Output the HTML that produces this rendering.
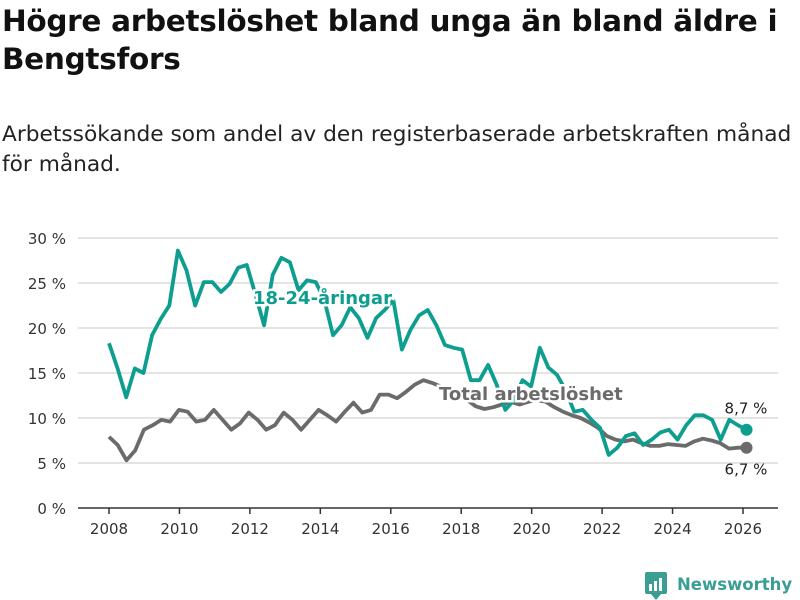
<!DOCTYPE html>
<html><head><meta charset="utf-8"><style>
body{margin:0;background:#fff;font-family:"Liberation Sans","DejaVu Sans",sans-serif;}
#wrap{position:relative;width:800px;height:600px;overflow:hidden;}
h1{position:absolute;left:2px;top:2px;width:798px;margin:0;font-size:29.5px;line-height:38px;font-weight:bold;color:#111;font-family:"DejaVu Sans",sans-serif;letter-spacing:-0.3px}
p{position:absolute;left:2px;top:120px;width:798px;margin:0;font-size:21.7px;line-height:30px;color:#222;font-family:"DejaVu Sans",sans-serif;letter-spacing:0}
svg{position:absolute;left:0;top:0}
</style></head><body><div id="wrap">
<h1>Högre arbetslöshet bland unga än bland äldre i Bengtsfors</h1>
<p>Arbetssökande som andel av den registerbaserade arbetskraften månad för månad.</p>
<svg id="chart" width="800" height="600"></svg>
</div>
<script>
const yTicks=[0,5,10,15,20,25,30];
const xTicks=[2008,2010,2012,2014,2016,2018,2020,2022,2024,2026];
const startYear=2008, endYear=2026.1;
const youth=[18.3,15.5,12.3,15.5,15,19.2,21,22.5,28.6,26.4,22.5,25.1,25.1,24,24.9,26.7,27,23.7,20.3,25.9,27.8,27.3,24.2,25.3,25.1,23.1,19.2,20.3,22.3,21.1,18.9,21.1,22,23.1,17.6,19.8,21.4,22,20.3,18.1,17.8,17.6,14.2,14.2,15.9,13.7,10.9,12,14.2,13.5,17.8,15.6,14.8,13.1,10.7,10.9,9.8,8.9,5.9,6.7,8,8.3,7,7.6,8.4,8.7,7.6,9.2,10.3,10.3,9.8,7.6,9.8,9.2,8.7];
const total=[7.9,7,5.3,6.4,8.7,9.2,9.8,9.6,10.9,10.7,9.6,9.8,10.9,9.8,8.7,9.4,10.6,9.8,8.7,9.2,10.6,9.8,8.7,9.8,10.9,10.3,9.6,10.7,11.7,10.6,10.9,12.6,12.6,12.2,12.9,13.7,14.2,13.9,13.5,13,12.5,12,11.3,11,11.2,11.5,11.8,11.5,11.8,12,11.8,11.2,10.7,10.3,10,9.5,8.9,8,7.6,7.4,7.6,7.2,6.9,6.9,7.1,7,6.9,7.4,7.7,7.5,7.2,6.6,6.7,6.7];
const ns="http://www.w3.org/2000/svg", svg=document.getElementById('chart');
const X=t=>109+(t-2008)*(743-109)/18, Y=v=>508-v*9;
const T=(i,n)=>startYear+i*(endYear-startYear)/(n-1);
function mk(tag,attrs,txt){const e=document.createElementNS(ns,tag);for(const k in attrs)e.setAttribute(k,attrs[k]);if(txt!==undefined)e.textContent=txt;svg.appendChild(e);return e;}
yTicks.forEach(v=>{
 if(v>0){const g=mk('line',{x1:78,x2:778,y1:Y(v),y2:Y(v),stroke:'#dcdcdc','stroke-width':1.5});
 
 }
 const t=mk('text',{x:66,y:Y(v)+6,'text-anchor':'end','font-size':15,fill:'#333','font-family':'DejaVu Sans,sans-serif'},v+' %');
 
 
});
const ax=mk('line',{x1:78,x2:778,y1:508,y2:508,stroke:'#333','stroke-width':1.5});


xTicks.forEach(y=>{
 const l=mk('line',{x1:X(y),x2:X(y),y1:508,y2:514,stroke:'#333','stroke-width':1.5});
 
 
 const t=mk('text',{x:X(y),y:534,'text-anchor':'middle','font-size':15,fill:'#333','font-family':'DejaVu Sans,sans-serif'},y);
 
 
});
function path(arr){return arr.map((v,i)=>(i?'L':'M')+X(T(i,arr.length)).toFixed(1)+' '+Y(v).toFixed(1)).join(' ');}
const pt=mk('path',{d:path(total),fill:'none',stroke:'#6b6b6b','stroke-width':3.8,'stroke-linejoin':'round'});


const py=mk('path',{d:path(youth),fill:'none',stroke:'#0e9e8f','stroke-width':3.8,'stroke-linejoin':'round'});


const lt=total.length-1, ly=youth.length-1;
const d1=mk('circle',{cx:X(T(lt,total.length)),cy:Y(total[lt]),r:6,fill:'#6b6b6b'});


const d2=mk('circle',{cx:X(T(ly,youth.length)),cy:Y(youth[ly]),r:6,fill:'#0e9e8f'});


const e1=mk('text',{x:746,y:Y(youth[ly])-16,'text-anchor':'middle','font-size':15,fill:'#222','font-family':'DejaVu Sans,sans-serif'},youth[ly].toFixed(1).replace('.',',')+' %');


const e2=mk('text',{x:746,y:Y(total[lt])+27,'text-anchor':'middle','font-size':15,fill:'#222','font-family':'DejaVu Sans,sans-serif'},total[lt].toFixed(1).replace('.',',')+' %');


const s1=mk('text',{x:253,y:304,'font-size':18,'font-weight':'bold',fill:'#0e9e8f',stroke:'#fff','stroke-width':5,'paint-order':'stroke','font-family':'DejaVu Sans,sans-serif'},'18-24-åringar');


const s2=mk('text',{x:439,y:400,'font-size':18,'font-weight':'bold',fill:'#6b6b6b',stroke:'#fff','stroke-width':5,'paint-order':'stroke','font-family':'DejaVu Sans,sans-serif'},'Total arbetslöshet');


const lg=mk('g',{});


lg.innerHTML='<rect x="645" y="572" width="22" height="22" rx="2" fill="#3a9e93"/><path d="M650 593 L656 600 L662 593Z" fill="#3a9e93"/><rect x="649" y="584" width="3" height="7" fill="#fff"/><rect x="654" y="581" width="3" height="10" fill="#fff"/><rect x="659" y="578" width="3" height="13" fill="#fff"/><text x="677" y="590" font-size="16.5" font-weight="bold" fill="#3a9e93" font-family="DejaVu Sans,sans-serif">Newsworthy</text>';
</script></body></html>
